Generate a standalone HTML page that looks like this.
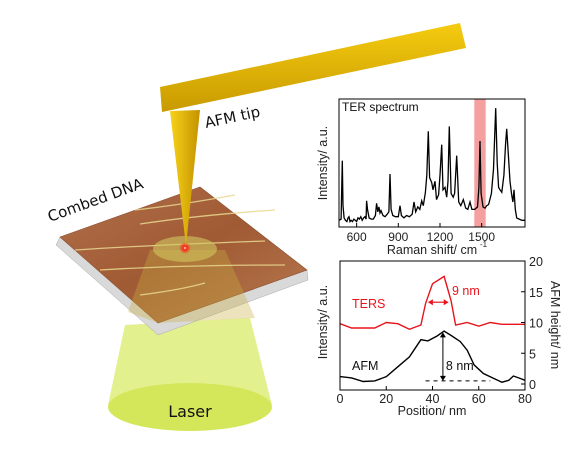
<!DOCTYPE html>
<html><head><meta charset="utf-8"><style>
html,body{margin:0;padding:0;background:#fff;width:570px;height:455px;overflow:hidden}
svg{display:block;font-family:"Liberation Sans",sans-serif}
.hand{font-family:"Comic Sans MS","DejaVu Sans",sans-serif}
</style></head><body>
<svg id="fig" width="570" height="455" viewBox="0 0 570 455">
<defs>
<linearGradient id="gold" x1="0" y1="0" x2="0" y2="1"><stop offset="0" stop-color="#f5cc10"/><stop offset="1" stop-color="#c89a00"/></linearGradient>
<linearGradient id="tipg" x1="0" y1="0" x2="1" y2="0"><stop offset="0" stop-color="#f8d21a"/><stop offset="1" stop-color="#c39200"/></linearGradient>
<linearGradient id="sub" x1="0" y1="0" x2="1" y2="1"><stop offset="0" stop-color="#b0704a"/><stop offset="0.5" stop-color="#a05a34"/><stop offset="1" stop-color="#b87a50"/></linearGradient>
<radialGradient id="dot"><stop offset="0" stop-color="#fff"/><stop offset="0.3" stop-color="#ff2010"/><stop offset="1" stop-color="#ff2010" stop-opacity="0"/></radialGradient>
</defs>
<g>
<polygon points="125,325 250,318 272,405 108,405" fill="#e3f08e"/>
<ellipse cx="190" cy="407" rx="82" ry="24" fill="#d4e75a"/>
<text x="190" y="417" text-anchor="middle" font-size="16" class="hand" fill="#111">Laser</text>
</g>
<g>
<polygon points="60,237 56,245 158,335 308,280 307,270 158,323" fill="#d9d9d9" stroke="#aaa" stroke-width="0.5"/>
<polygon points="60,237 200,187 307,270 158,323" fill="url(#sub)" stroke="#8a5030" stroke-width="0.6"/>
<polygon points="150,250 225,250 255,318 158,323 128,312" fill="#c8b040" opacity="0.35"/>
<g stroke="#e8d890" stroke-width="1.3" fill="none" opacity="0.85">
<path d="M135,210 Q180,205 235,195"/><path d="M140,224 Q200,215 275,210"/><path d="M75,250 Q150,245 265,241"/><path d="M100,270 Q180,265 285,265"/><path d="M140,295 Q180,290 205,283"/>
</g>
<ellipse cx="185" cy="249" rx="32" ry="13" fill="#d0c860" opacity="0.6"/>
<circle cx="185" cy="248" r="6" fill="url(#dot)"/>
</g>
<g>
<polygon points="160,87 460,23 466,48 162,112" fill="url(#gold)"/>
<polygon points="170,111 200,110 186,246" fill="url(#tipg)"/>
</g>
<text x="206" y="128" font-size="15" class="hand" transform="rotate(-12 206 128)" fill="#111">AFM tip</text>
<text x="50" y="222" font-size="15" class="hand" transform="rotate(-20 50 222)" fill="#111">Combed DNA</text>

<g id="top"></g>
<g id="bot"></g>
</svg>
<script>
// ---- TER spectrum data ----
const ramanShifts = [473,488,497,502,510,520,530,538,545,552,560,570,580,590,600,610,620,630,640,650,660,668,672,678,690,705,720,735,744,752,760,768,775,790,805,820,832,840,848,860,880,900,912,922,940,960,980,1000,1013,1025,1040,1055,1068,1080,1095,1105,1116,1125,1140,1150,1164,1175,1190,1200,1212,1222,1236,1248,1258,1267,1280,1295,1305,1320,1335,1350,1368,1385,1400,1416,1430,1450,1470,1480,1488,1496,1510,1525,1536,1550,1570,1585,1601,1612,1622,1632,1645,1660,1672,1680,1690,1704,1715,1725,1733,1742,1752,1770,1790,1812];
const ramanIntensity = [0.03,0.04,0.52,0.15,0.05,0.03,0.02,0.05,0.06,0.02,0.03,0.02,0.04,0.03,0.02,0.05,0.04,0.06,0.03,0.05,0.06,0.04,0.19,0.12,0.05,0.04,0.04,0.07,0.17,0.10,0.14,0.09,0.11,0.07,0.06,0.08,0.10,0.41,0.12,0.07,0.06,0.06,0.15,0.07,0.05,0.07,0.06,0.08,0.18,0.10,0.14,0.12,0.19,0.15,0.26,0.40,0.76,0.38,0.34,0.28,0.35,0.20,0.24,0.40,0.65,0.28,0.30,0.22,0.35,0.80,0.25,0.22,0.25,0.56,0.18,0.15,0.20,0.13,0.12,0.18,0.12,0.12,0.14,0.30,0.68,0.25,0.14,0.13,0.15,0.16,0.25,0.45,0.95,0.50,0.30,0.28,0.26,0.40,0.66,0.78,0.60,0.35,0.25,0.18,0.28,0.12,0.05,0.04,0.03,0.03];
const ramanTicks = [600,900,1200,1500];
const highlightBand = [1447,1529];
// ---- AFM / TERS profile data ----
const afmPos = [0,5,10,15,20,25,30,35,38,42,45,48,52,55,58,62,66,70,73,75,78,80];
const afmHeight = [1.2,1.0,0.4,0.5,1.2,2.8,4.4,7.2,7.0,7.8,8.6,7.9,6.9,5.5,3.1,1.7,1.0,0.3,0.6,1.3,0.9,0.6];
const tersPos = [0,5,10,15,20,25,30,35,37,40,45,48,50,55,60,65,70,80];
const tersSignal = [9.8,9.1,9.1,9.1,10.0,9.8,8.9,9.6,13.1,16.3,17.5,13.6,9.6,10.0,9.4,10.0,9.7,9.7];
const posTicks = [0,20,40,60,80];
const heightTicks = [0,5,10,15,20];

const NS="http://www.w3.org/2000/svg";
function mk(parent,tag,attrs,text){const e=document.createElementNS(NS,tag);for(const k in attrs)e.setAttribute(k,attrs[k]);if(text!==undefined)e.textContent=text;parent.appendChild(e);return e;}

// top chart
(function(){
const g=document.getElementById('top');
const L=339,R=525,T=99,B=227;
const xs=v=>L+(v-473)/(1812-473)*(R-L);
const ys=v=>B-3-v*(B-T-6);
let r=mk(g,'rect',{x:xs(highlightBand[0]),y:T,width:xs(highlightBand[1])-xs(highlightBand[0]),height:B-T,fill:'#f4a0a0'});


let d=ramanShifts.map((s,i)=>(i?'L':'M')+xs(s).toFixed(1)+','+ys(ramanIntensity[i]).toFixed(1)).join(' ');
let p=mk(g,'path',{d:d,fill:'none',stroke:'#000','stroke-width':1.3});


let f=mk(g,'rect',{x:L,y:T,width:R-L,height:B-T,fill:'none',stroke:'#000','stroke-width':1});


ramanTicks.forEach(t=>{
 mk(g,'line',{x1:xs(t),x2:xs(t),y1:B,y2:B-4,stroke:'#000'});
 let tx=mk(g,'text',{x:xs(t),y:B+14,'text-anchor':'middle','font-size':12,fill:'#222'},t);
 
 
});
let t1=mk(g,'text',{x:342,y:111,'font-size':12,fill:'#111'},'TER spectrum');


let xt=mk(g,'text',{x:432,y:254,'text-anchor':'middle','font-size':12.5,fill:'#222'},'Raman shift/ cm');


mk(g,'text',{x:480,y:247,'font-size':8,fill:'#222'},'-1');
let yt=mk(g,'text',{x:327,y:163,'text-anchor':'middle','font-size':12.5,fill:'#222',transform:'rotate(-90 327 163)'},'Intensity/ a.u.');


})();

// bottom chart
(function(){
const g=document.getElementById('bot');
const L=340,R=525,T=261,B=390;
const xs=v=>L+v/80*(R-L);
const ys=v=>384-v/20*(384-261);
let a=mk(g,'path',{d:afmPos.map((x,i)=>(i?'L':'M')+xs(x).toFixed(1)+','+ys(afmHeight[i]).toFixed(1)).join(' '),fill:'none',stroke:'#000','stroke-width':1.4});


let tr=mk(g,'path',{d:tersPos.map((x,i)=>(i?'L':'M')+xs(x).toFixed(1)+','+ys(tersSignal[i]).toFixed(1)).join(' '),fill:'none',stroke:'#e8141c','stroke-width':1.4});


let f=mk(g,'rect',{x:L,y:T,width:R-L,height:B-T,fill:'none',stroke:'#000','stroke-width':1});


posTicks.forEach(t=>{
 mk(g,'line',{x1:xs(t),x2:xs(t),y1:B,y2:B-4,stroke:'#000'});
 let tx=mk(g,'text',{x:xs(t),y:B+13,'text-anchor':'middle','font-size':12.5,fill:'#222'},t);
 
 
});
heightTicks.forEach(t=>{
 mk(g,'line',{x1:R,x2:R-4,y1:ys(t),y2:ys(t),stroke:'#000'});
 let tx=mk(g,'text',{x:R+4,y:ys(t)+5,'font-size':12.5,fill:'#222'},t);
 
 
});
// annotations
const ay=ys(13.3);
mk(g,'line',{x1:xs(38)+4,x2:xs(47)-4,y1:ay,y2:ay,stroke:'#e8141c','stroke-width':1.2});
mk(g,'path',{d:`M${xs(38)},${ay} l5,-3 v6 z M${xs(47)},${ay} l-5,-3 v6 z`,fill:'#e8141c'});
let n9=mk(g,'text',{x:xs(48)+1,y:ys(15.1)+4,'font-size':12.5,fill:'#e8141c'},'9 nm');


const ax=xs(44.5);
mk(g,'line',{x1:ax,x2:ax,y1:ys(8.4)+4,y2:ys(0.5)-4,stroke:'#000','stroke-width':1});
mk(g,'path',{d:`M${ax},${ys(8.4)} l-3,5 h6 z M${ax},${ys(0.5)} l-3,-5 h6 z`,fill:'#000'});
mk(g,'line',{x1:xs(37),x2:xs(65),y1:ys(0.5),y2:ys(0.5),stroke:'#000','stroke-dasharray':'4,4'});
let n8=mk(g,'text',{x:ax+3,y:ys(2.3),'font-size':12.5,fill:'#111'},'8 nm');


let lt=mk(g,'text',{x:352,y:308,'font-size':12.5,fill:'#e8141c'},'TERS');


let la=mk(g,'text',{x:352,y:370,'font-size':12.5,fill:'#111'},'AFM');


let xt=mk(g,'text',{x:432,y:415,'text-anchor':'middle','font-size':12.5,fill:'#222'},'Position/ nm');


let yl=mk(g,'text',{x:327,y:322,'text-anchor':'middle','font-size':12.5,fill:'#222',transform:'rotate(-90 327 322)'},'Intensity/ a.u.');


let yr=mk(g,'text',{x:551,y:325,'text-anchor':'middle','font-size':12.5,fill:'#222',transform:'rotate(90 551 325)'},'AFM height/ nm');


})();
</script>
</body></html>
